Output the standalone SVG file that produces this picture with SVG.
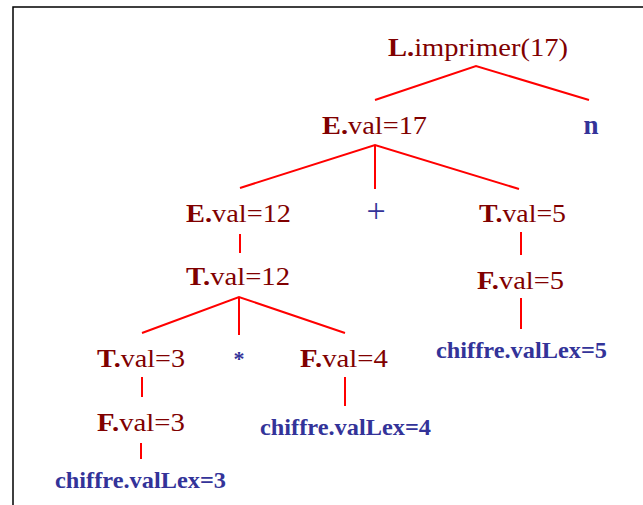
<svg xmlns="http://www.w3.org/2000/svg" width="643" height="505" viewBox="0 0 643 505">
<style>
.nt{font-family:"Liberation Serif",serif;font-size:26px;fill:#800000}
.nt .b{font-weight:bold}
.tm{font-family:"Liberation Serif",serif;fill:#333399}
.lx{font-family:"Liberation Serif",serif;font-size:23px;font-weight:bold;fill:#333399}
.e{stroke:#ff0000;stroke-width:2;fill:none}
</style>
<rect x="0" y="0" width="643" height="505" fill="#ffffff"/>
<path d="M13,505 V7 H643" stroke="#000" stroke-width="1.5" fill="none"/>
<g id="connectors">
<polyline class="e" points="375,100 476,66 589,100"/>
<polyline class="e" points="240,188 375,145 519,189"/>
<line class="e" x1="375" y1="145" x2="375" y2="189"/>
<line class="e" x1="240" y1="234" x2="240" y2="253"/>
<line class="e" x1="521" y1="232" x2="521" y2="255"/>
<line class="e" x1="521" y1="298" x2="521" y2="329"/>
<polyline class="e" points="142,333 239,297 345,333"/>
<line class="e" x1="239" y1="297" x2="239" y2="335"/>
<line class="e" x1="142" y1="377" x2="142" y2="397"/>
<line class="e" x1="345" y1="377" x2="345" y2="406"/>
<line class="e" x1="141" y1="443" x2="141" y2="459"/>
</g>
<g id="L"><text class="nt" x="388" y="56" font-size="27" textLength="180" lengthAdjust="spacingAndGlyphs"><tspan class="b">L.</tspan>imprimer(17)</text></g>
<g id="E17"><text class="nt" x="322" y="134" textLength="105" lengthAdjust="spacingAndGlyphs"><tspan class="b">E.</tspan>val=17</text></g>
<g id="n"><text class="tm" x="591" y="134" font-size="27" font-weight="bold" text-anchor="middle">n</text></g>
<g id="E12"><text class="nt" x="186" y="222" textLength="105" lengthAdjust="spacingAndGlyphs"><tspan class="b">E.</tspan>val=12</text></g>
<g id="plus"><text class="tm" x="376" y="222" font-size="34" text-anchor="middle">+</text></g>
<g id="T5"><text class="nt" x="479" y="222" textLength="87" lengthAdjust="spacingAndGlyphs"><tspan class="b">T.</tspan>val=5</text></g>
<g id="T12"><text class="nt" x="186" y="285" textLength="104" lengthAdjust="spacingAndGlyphs"><tspan class="b">T.</tspan>val=12</text></g>
<g id="F5"><text class="nt" x="477" y="289" textLength="87" lengthAdjust="spacingAndGlyphs"><tspan class="b">F.</tspan>val=5</text></g>
<g id="c5"><text class="lx" x="436" y="358" textLength="171" lengthAdjust="spacingAndGlyphs">chiffre.valLex=5</text></g>
<g id="T3"><text class="nt" x="97" y="367" textLength="88" lengthAdjust="spacingAndGlyphs"><tspan class="b">T.</tspan>val=3</text></g>
<g id="star"><text class="tm" x="239" y="366" font-size="22" font-weight="bold" text-anchor="middle">*</text></g>
<g id="F4"><text class="nt" x="300" y="367" textLength="88" lengthAdjust="spacingAndGlyphs"><tspan class="b">F.</tspan>val=4</text></g>
<g id="F3"><text class="nt" x="97" y="431" textLength="88" lengthAdjust="spacingAndGlyphs"><tspan class="b">F.</tspan>val=3</text></g>
<g id="c4"><text class="lx" x="260" y="435" textLength="171" lengthAdjust="spacingAndGlyphs">chiffre.valLex=4</text></g>
<g id="c3"><text class="lx" x="55" y="488" textLength="171" lengthAdjust="spacingAndGlyphs">chiffre.valLex=3</text></g>
</svg>
